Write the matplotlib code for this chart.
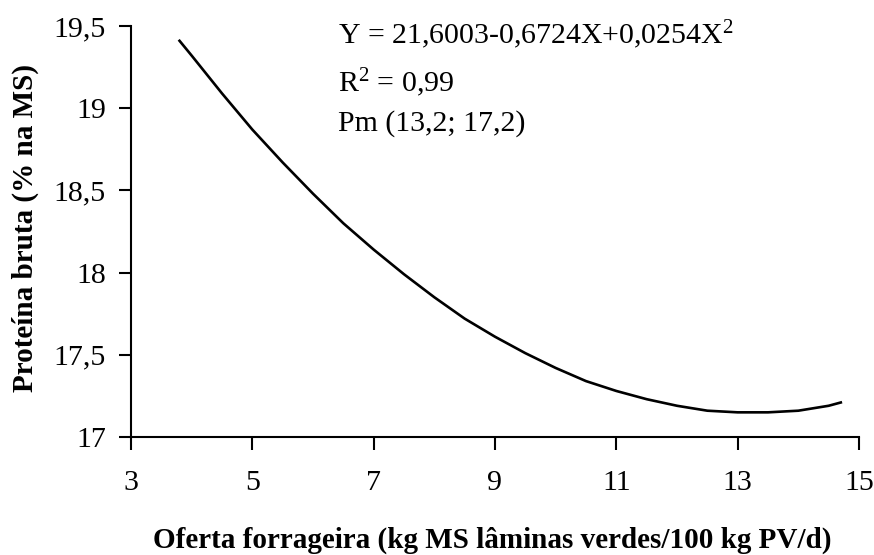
import matplotlib
matplotlib.use("Agg")
import matplotlib.pyplot as plt

# Values
oferta = [3.8, 4.0, 4.5, 5.0, 5.5, 6.0, 6.5, 7.0, 7.5, 8.0, 8.5, 9.0, 9.5, 10.0,
          10.5, 11.0, 11.5, 12.0, 12.5, 13.0, 13.5, 14.0, 14.5, 14.7]
proteina = [19.41, 19.32, 19.09, 18.87, 18.67, 18.48, 18.30, 18.14, 17.99, 17.85,
            17.72, 17.61, 17.51, 17.42, 17.34, 17.28, 17.23, 17.19, 17.16, 17.15,
            17.15, 17.16, 17.19, 17.21]
xticks = [3, 5, 7, 9, 11, 13, 15]
yticks = [17, 17.5, 18, 18.5, 19, 19.5]
ytick_labels = ["17", "17,5", "18", "18,5", "19", "19,5"]
eq_lines = ["Y = 21,6003-0,6724X+0,0254X$^2$", "R$^2$ = 0,99", "Pm (13,2; 17,2)"]

plt.rcParams['font.family'] = ['Liberation Serif', 'DejaVu Serif']
plt.rcParams['mathtext.fontset'] = 'custom'
plt.rcParams['mathtext.rm'] = 'Liberation Serif'
plt.rcParams['mathtext.it'] = 'Liberation Serif'
plt.rcParams['mathtext.default'] = 'regular'

fig = plt.figure(figsize=(8.74, 5.55), dpi=100)
ax = fig.add_axes([131/874, 1-437/555, (859-131)/874, (437-26)/555])

ax.plot(oferta, proteina, color='black', lw=1.9)

ax.set_xlim(3, 15)
ax.set_ylim(17, 19.5)
ax.set_xticks(xticks)
ax.set_xticklabels([str(v) for v in xticks])
ax.set_yticks(yticks)
ax.set_yticklabels(ytick_labels)
for s in ['top', 'right']:
    ax.spines[s].set_visible(False)
for s in ['left', 'bottom']:
    ax.spines[s].set_linewidth(1.5)
ax.tick_params(axis='both', direction='out', length=9, width=1.5, labelsize=21.5, color='black')
ax.tick_params(axis='x', pad=15)
ax.tick_params(axis='y', pad=9)

fig.text(492/874, 1-548/555, "Oferta forrageira (kg MS lâminas verdes/100 kg PV/d)",
         ha='center', va='baseline', fontsize=21, fontweight='bold')
fig.text(25/874, 1-228/555, "Proteína bruta (% na MS)", rotation=90,
         ha='center', va='center', fontsize=21, fontweight='bold')

ys = [44, 92, 131]
for t, y in zip(eq_lines, ys):
    fig.text(338/874, 1-y/555, t, ha='left', va='baseline', fontsize=21.5)

fig.savefig("out.png", dpi=100)
